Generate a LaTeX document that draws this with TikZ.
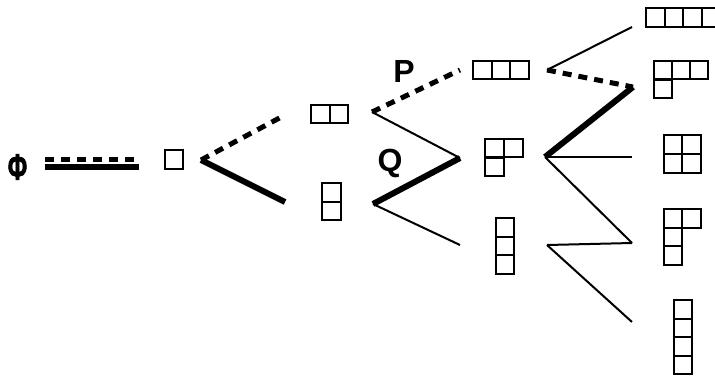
\documentclass[tikz,border=0pt]{standalone}
\usepackage{fontspec}
\usepackage{graphicx}
\setmainfont{Liberation Sans}
\newfontfamily\phifam[FakeBold=2.5]{Liberation Sans Bold}
\newcommand{\phifont}{\phifam\fontsize{36pt}{38pt}\selectfont}
\newcommand{\lblfont}{\fontsize{32pt}{34pt}\selectfont\bfseries}
\newcommand{\ydcell}[2]{\draw[cellbox] (#1,#2) rectangle ++(18.5,18.5);}
\tikzset{
  cellbox/.style={draw, line width=2pt},
  thinedge/.style={line width=2pt},
  thickedge/.style={line width=6pt},
  dashedge/.style={line width=5pt, dash pattern=on 9pt off 7pt},
  lbl/.style={font=\lblfont, inner sep=0pt}}
\begin{document}
\begin{tikzpicture}[x=1pt,y=-1pt]
\useasboundingbox (0,0) rectangle (715,376);
\clip (0,0) rectangle (715,376);
% Young diagrams
\ydcell{164.5}{150}
\foreach \i in {0,1} {\ydcell{311+\i*18.5}{104.5}}
\foreach \j in {0,1} {\ydcell{322}{183+\j*18.5}}
\foreach \i in {0,1,2} {\ydcell{473+\i*18.5}{60.5}}
\foreach \i/\j in {0/0,1/0,0/1} {\ydcell{485+\i*19}{138.5+\j*19}}
\foreach \j in {0,1,2} {\ydcell{495.5}{218+\j*18.5}}
\foreach \i in {0,1,2,3} {\ydcell{646+\i*18.5}{8}}
\foreach \i/\j in {0/0,1/0,2/0,0/1} {\ydcell{653.5+\i*18.2}{60.5+\j*19}}
\foreach \i/\j in {0/0,1/0,0/1,1/1} {\ydcell{663.5+\i*18.5}{135+\j*19}}
\foreach \i/\j in {0/0,1/0,0/1,0/2} {\ydcell{663.5+\i*18.5}{209+\j*18.5}}
\foreach \j in {0,1,2,3} {\ydcell{673.5}{300+\j*18.5}}
% labels
\node[font=\phifont, inner sep=0pt] (phi) at (17.5,167) {\scalebox{0.65}[1]{Φ}};
\node[lbl] (P) at (404,71) {P};
\node[lbl] (Q) at (390,163) {Q};
% endpoints
\coordinate (phiA) at (45,159); \coordinate (phiB) at (139,159);
\coordinate (phiC) at (45,167); \coordinate (phiD) at (139,167);
\coordinate (a0) at (201,160);
\coordinate (a1) at (285,115);
\coordinate (a2) at (285,202);
\coordinate (b0) at (372,112);
\coordinate (c0) at (373,204);
\coordinate (b1) at (460,70);
\coordinate (b2) at (460,158);
\coordinate (b3) at (460,245);
\coordinate (d0) at (547,70);
\coordinate (e0) at (545,157);
\coordinate (f0) at (547,245);
\coordinate (d1) at (632,27);
\coordinate (d2) at (633,87);
\coordinate (d3) at (632,157);
\coordinate (d4) at (632,243);
\coordinate (d5) at (632,322);
% edges
\draw[dashedge] (phiA) -- (phiB);
\draw[thickedge] (phiC) -- (phiD);
\draw[dashedge] (a0) -- (a1);
\draw[thickedge] (a0) -- (a2);
\draw[dashedge] (b0) -- (b1);
\draw[thinedge] (b0) -- (b2);
\draw[thickedge] (c0) -- (b2);
\draw[thinedge] (c0) -- (b3);
\draw[thinedge] (d0) -- (d1);
\draw[dashedge] (d0) -- (d2);
\draw[thickedge] (e0) -- (d2);
\draw[thinedge] (e0) -- (d3);
\draw[thinedge] (e0) -- (d4);
\draw[thinedge] (f0) -- (d4);
\draw[thinedge] (f0) -- (d5);
\end{tikzpicture}
\end{document}
